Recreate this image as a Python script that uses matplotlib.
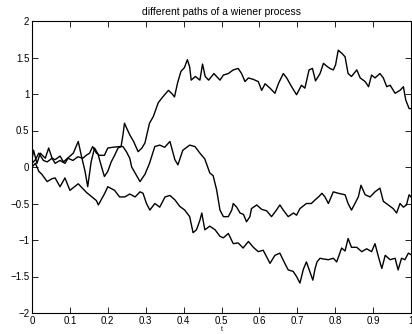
import numpy as np
import matplotlib
matplotlib.use("Agg")
import matplotlib.pyplot as plt

plt.rcParams['font.family'] = ['Liberation Sans', 'DejaVu Sans']

# path values (t, W(t))
t_a = [0, .004, .013, .022, .035, .044, .053, .061, .074, .083, .096, .109, .122, .13, .14,
       .147, .156, .165, .174, .182, .191, .2, .209, .218, .227, .235, .24, .244, .25, .258,
       .268, .28, .29, .298, .31, .32, .333, .345, .36, .37, .376, .384, .393, .402, .41,
       .416, .42, .431, .443, .45, .457, .466, .48, .496, .505, .518, .531, .544, .553, .562,
       .571, .584, .597, .606, .615, .628, .641, .65, .663, .672, .685, .698, .711, .72, .731,
       .74, .748, .76, .769, .778, .786, .795, .801, .808, .817, .826, .834, .843, .857, .866,
       .879, .888, .896, .905, .918, .927, .936, .945, .958, .971, .98, .986, .995, 1.0]
w_a = [0.10, 0.23, 0.05, 0.19, 0.12, 0.26, 0.12, 0.10, 0.15, 0.07, 0.13, 0.19, 0.35, 0.16, -0.06,
       -0.27, 0.07, 0.26, 0.18, 0.03, -0.13, -0.06, 0.07, 0.16, 0.26, 0.28, 0.44, 0.60, 0.53, 0.44,
       0.35, 0.21, 0.26, 0.33, 0.60, 0.69, 0.88, 0.96, 1.05, 1.00, 0.96, 1.15, 1.31, 1.36, 1.47,
       1.37, 1.19, 1.24, 1.19, 1.41, 1.24, 1.19, 1.28, 1.19, 1.26, 1.28, 1.33, 1.35, 1.28, 1.17,
       1.22, 1.20, 1.17, 1.05, 1.14, 1.08, 1.01, 1.14, 1.28, 1.22, 1.10, 0.99, 1.12, 1.08, 1.33,
       1.35, 1.18, 1.28, 1.42, 1.38, 1.35, 1.33, 1.40, 1.60, 1.56, 1.51, 1.28, 1.24, 1.33, 1.22,
       1.17, 1.10, 1.26, 1.22, 1.28, 1.22, 1.10, 1.12, 1.01, 1.05, 1.10, 0.92, 0.80, 0.80]

t_b = [0, .009, .018, .03, .04, .053, .061, .074, .087, .095, .108, .121, .134, .143, .152,
       .16, .17, .178, .191, .2, .213, .231, .24, .249, .258, .263, .285, .298, .31, .324,
       .337, .35, .364, .377, .385, .398, .416, .43, .443, .456, .469, .478, .487, .496, .505,
       .518, .527, .531, .54, .549, .558, .566, .575, .579, .593, .606, .619, .632, .645, .654,
       .663, .676, .69, .698, .707, .724, .737, .747, .756, .765, .773, .782, .795, .808, .826,
       .834, .843, .852, .861, .868, .879, .892, .905, .918, .927, .94, .953, .962, .971, .98,
       .988, .995, 1.0]
w_b = [0.05, 0.10, 0.19, 0.09, 0.07, 0.12, 0.05, 0.09, 0.05, 0.12, 0.09, 0.14, 0.12, 0.16, 0.19,
       0.28, 0.19, 0.16, 0.16, 0.26, 0.27, 0.28, 0.28, 0.21, 0.12, 0.0, -0.20, -0.10, 0.05, 0.28,
       0.30, 0.27, 0.35, 0.10, 0.03, 0.23, 0.30, 0.28, 0.19, 0.11, -0.08, -0.12, -0.31, -0.59, -0.68,
       -0.68, -0.59, -0.50, -0.55, -0.63, -0.65, -0.75, -0.68, -0.57, -0.52, -0.58, -0.60, -0.68, -0.59, -0.52,
       -0.59, -0.68, -0.63, -0.66, -0.57, -0.50, -0.50, -0.45, -0.41, -0.36, -0.41, -0.50, -0.34, -0.36, -0.38,
       -0.50, -0.59, -0.50, -0.41, -0.25, -0.38, -0.41, -0.34, -0.29, -0.47, -0.52, -0.57, -0.63, -0.50, -0.55,
       -0.52, -0.38, -0.41]

t_c = [0, .009, .018, .026, .04, .053, .061, .074, .087, .1, .122, .144, .17, .175, .192,
       .2, .218, .231, .245, .258, .272, .285, .293, .302, .311, .324, .337, .351, .364, .377,
       .39, .403, .416, .425, .434, .443, .448, .456, .469, .483, .496, .505, .518, .531, .544,
       .557, .571, .584, .597, .61, .628, .641, .654, .667, .676, .689, .698, .707, .716, .724,
       .741, .747, .752, .76, .769, .782, .795, .804, .817, .826, .834, .843, .857, .87, .883,
       .896, .905, .914, .923, .932, .945, .958, .966, .975, .984, .993, 1.0]
w_c = [0.0, 0.05, -0.06, -0.10, -0.20, -0.16, -0.15, -0.27, -0.15, -0.32, -0.23, -0.35, -0.46, -0.52, -0.36,
       -0.27, -0.32, -0.41, -0.41, -0.37, -0.41, -0.34, -0.36, -0.50, -0.59, -0.50, -0.55, -0.41, -0.39, -0.45,
       -0.54, -0.59, -0.68, -0.90, -0.86, -0.73, -0.63, -0.86, -0.81, -0.86, -0.95, -0.97, -0.91, -1.05, -1.04,
       -1.11, -1.02, -1.10, -1.16, -1.14, -1.32, -1.21, -1.18, -1.32, -1.41, -1.43, -1.50, -1.59, -1.40, -1.30,
       -1.55, -1.39, -1.30, -1.25, -1.26, -1.27, -1.25, -1.30, -1.11, -1.15, -0.98, -1.10, -1.10, -1.16, -1.12,
       -1.16, -1.05, -1.23, -1.39, -1.21, -1.27, -1.25, -1.41, -1.25, -1.27, -1.18, -1.20]

xticks = [0, 0.1, 0.2, 0.3, 0.4, 0.5, 0.6, 0.7, 0.8, 0.9, 1]
xlabels = ['0', '0.1', '0.2', '0.3', '0.4', '0.5', '0.6', '0.7', '0.8', '0.9', '1']
yticks = [-2, -1.5, -1, -0.5, 0, 0.5, 1, 1.5, 2]
ylabels = ['\u22122', '\u22121.5', '\u22121', '\u22120.5', '0', '0.5', '1', '1.5', '2']

fig = plt.figure(figsize=(4.12, 3.34), dpi=100)
ax = fig.add_axes([32/412, 21/334, 379/412, 292/334])

for t, w in [(t_a, w_a), (t_b, w_b), (t_c, w_c)]:
    ax.plot(t, w, color='black', lw=1.0)

ax.set_xlim(0, 1)
ax.set_ylim(-2, 2)
ax.set_xticks(xticks)
ax.set_xticklabels(xlabels)
ax.set_yticks(yticks)
ax.set_yticklabels(ylabels)
ax.tick_params(direction='in', length=4, width=0.6, labelsize=7, top=True, right=True, pad=2)
for s in ax.spines.values():
    s.set_linewidth(0.8)
ax.set_title('different paths of a wiener process', fontsize=7.5, pad=4)
ax.set_xlabel('t', fontsize=5, labelpad=0)

fig.savefig('out.png', dpi=100)
